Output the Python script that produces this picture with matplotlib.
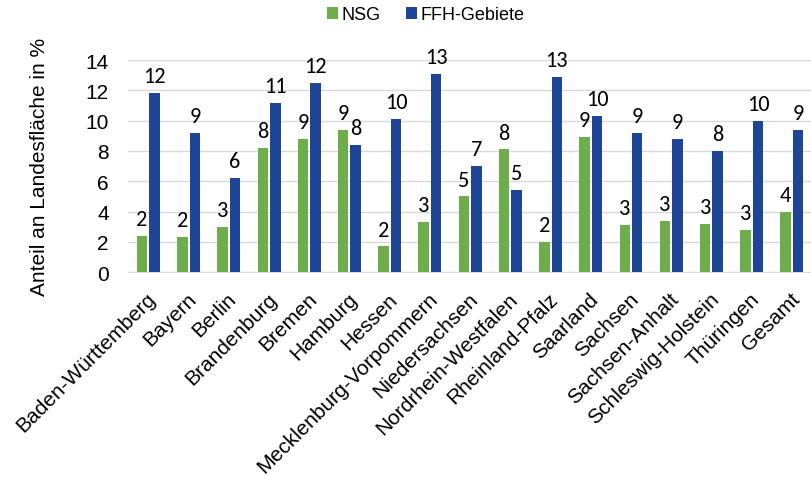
import matplotlib.pyplot as plt
import numpy as np

plt.rcParams['font.family'] = ['Liberation Sans', 'DejaVu Sans']

laender = ["Baden-Württemberg", "Bayern", "Berlin", "Brandenburg", "Bremen",
           "Hamburg", "Hessen", "Mecklenburg-Vorpommern", "Niedersachsen",
           "Nordrhein-Westfalen", "Rheinland-Pfalz", "Saarland", "Sachsen",
           "Sachsen-Anhalt", "Schleswig-Holstein", "Thüringen", "Gesamt"]
nsg = [2.4, 2.3, 3.0, 8.2, 8.8, 9.4, 1.7, 3.3, 5.0, 8.1, 2.0, 8.9, 3.1, 3.4, 3.2, 2.8, 4.0]
ffh = [11.8, 9.2, 6.2, 11.2, 12.5, 8.4, 10.1, 13.1, 7.0, 5.4, 12.9, 10.3, 9.2, 8.8, 8.0, 10.0, 9.4]

GREEN = "#6EAD4B"
BLUE = "#1F4596"

fig = plt.figure(figsize=(8.12, 4.81), dpi=100)
ax = fig.add_axes([0.158, 0.432, 0.842, 0.441])

x = np.arange(len(laender))
w = 0.26
b1 = ax.bar(x - 0.155, nsg, w, color=GREEN, label="NSG", zorder=3)
b2 = ax.bar(x + 0.155, ffh, w, color=BLUE, label="FFH-Gebiete", zorder=3)

for bars in (b1, b2):
    for rect in bars:
        v = rect.get_height()
        ax.annotate(f"{v:.0f}", (rect.get_x() + rect.get_width() / 2, v),
                    xytext=(0, 5), textcoords="offset points",
                    ha="center", va="bottom", fontsize=16,
                    family=['Carlito', 'Liberation Sans', 'DejaVu Sans'])

ax.set_xlim(-0.5, 16.5)
ax.set_ylim(0, 14)
ax.set_yticks(range(0, 15, 2))
ax.yaxis.grid(True, color="#d9d9d9", linewidth=1, zorder=0)
for s in ["top", "right", "left"]:
    ax.spines[s].set_visible(False)
ax.spines["bottom"].set_color("#d9d9d9")
ax.tick_params(axis="both", length=0, labelsize=15)
ax.tick_params(axis="y", pad=14)

ax.set_xticks(x - 0.05)
ax.set_xticklabels(laender, rotation=45, ha="right", rotation_mode="anchor")
ax.tick_params(axis="x", pad=12)

ax.set_ylabel("Anteil an Landesfläche in %", fontsize=15, labelpad=26)

ax.legend(loc="upper center", bbox_to_anchor=(0.435, 1.33), ncol=2, frameon=False,
          fontsize=13, handlelength=0.6, handleheight=0.6, handletextpad=0.2,
          columnspacing=1.4)

fig.savefig("out.png", dpi=100)
